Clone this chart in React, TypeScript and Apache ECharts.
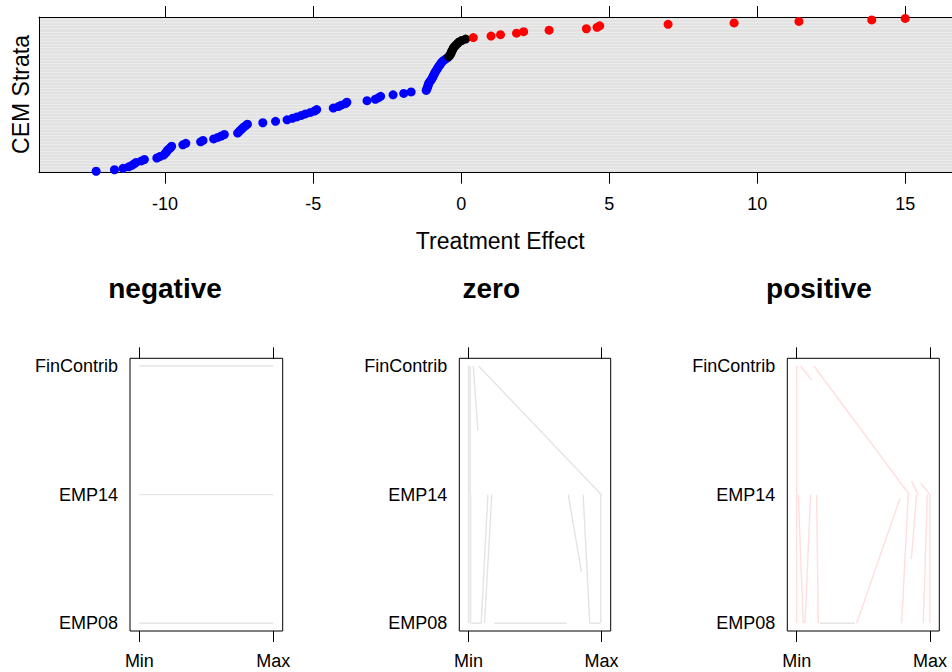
import React, { useEffect, useRef } from "react";
import * as echarts from "echarts";

// Treatment effects, sorted, grouped by sign class
const negativeEffects = [
  -12.33, -11.71, -11.42, -11.23, -11.12, -11.05, -10.98, -10.8, -10.7, -10.28,
  -10.18, -10.05, -10.0, -9.96, -9.93, -9.88, -9.82, -9.78, -9.4, -9.3,
  -8.8, -8.72, -8.36, -8.22, -8.1, -8.0, -7.55, -7.5, -7.45, -7.4,
  -7.35, -7.28, -7.22, -6.7, -6.27, -5.88, -5.7, -5.55, -5.4, -5.26,
  -5.09, -4.95, -4.88, -4.32, -4.15, -4.05, -3.91, -3.86, -3.18, -2.9,
  -2.8, -2.72, -2.3, -1.94, -1.69, -1.18, -1.16, -1.14, -1.12, -1.11,
  -1.09, -1.06, -1.02, -0.99, -0.96, -0.94, -0.91, -0.89, -0.86, -0.83,
  -0.8, -0.77, -0.73, -0.7, -0.66, -0.62, -0.55, -0.48,
];
const zeroEffects = [
  -0.42, -0.38, -0.35, -0.33, -0.31, -0.28, -0.26, -0.22, -0.17, -0.12, -0.07, 0.02, 0.15,
];
const positiveEffects = [
  0.41, 1.01, 1.33, 1.87, 2.11, 2.97, 4.23, 4.59, 4.68, 6.99, 9.22, 11.41, 13.87, 15.0,
];
const effectTicks = [-10, -5, 0, 5, 10, 15];

const panelTitles = ["negative", "zero", "positive"];
const variableLabels = ["EMP08", "EMP14", "FinContrib"];
const rangeLabels = ["Min", "Max"];

// Parallel profiles: [scaled value (0=Min, 1=Max), variable level (0=EMP08,1=EMP14,2=FinContrib)]
const negativeProfiles = [
  [[0, 2], [1, 2]],
  [[0, 1], [1, 1]],
  [[0, 0], [1, 0]],
];
const zeroProfiles = [
  [[0, 2], [0, 1]],
  [[0.012, 2], [0.012, 1]],
  [[0.035, 2], [0.07, 1.5]],
  [[0.075, 2], [1, 1]],
  [[0, 1], [0, 0]],
  [[0.015, 1], [0.015, 0]],
  [[0.02, 0], [0.095, 0]],
  [[0.095, 0], [0.145, 1]],
  [[0.175, 1], [0.12, 0]],
  [[0.195, 0], [0.74, 0]],
  [[0.75, 1], [0.85, 0.4]],
  [[0.8625, 1], [0.9125, 0]],
  [[0.9125, 0], [0.9875, 0]],
  [[0.995, 1], [0.995, 0]],
];
const positiveProfiles = [
  [[0, 2], [0, 1]],
  [[0.03, 2], [0.1125, 1.89]],
  [[0.13, 2], [0.845, 1]],
  [[0.8625, 1.107], [0.9125, 1]],
  [[0.93, 1.09], [1, 1]],
  [[0, 1], [0, 0]],
  [[0.0125, 1], [0.05, 0]],
  [[0.105, 1], [0.0625, 0]],
  [[0.15, 1], [0.1625, 0]],
  [[0.45, 0], [0.775, 0.97]],
  [[0.8375, 1], [0.7875, 0]],
  [[0.9, 1], [0.86, 0.5]],
  [[0.98, 1], [0.95, 0]],
  [[1, 1], [1, 0]],
];
const positiveGrayProfiles = [
  [[0.175, 0], [0.4375, 0]],
];

const FONT = "'Liberation Sans', Arial, Helvetica, sans-serif";

export default function App() {
  const ref = useRef<HTMLDivElement>(null);

  useEffect(() => {
    if (!ref.current) return;
    const chart = echarts.init(ref.current, null, { renderer: "svg" });

    const panelBoxes = [
      { left: 130, right: 952 - 282.7 },
      { left: 459.3, right: 952 - 610.7 },
      { left: 787.3, right: 952 - 939.3 },
    ];
    const grids: any[] = [
      { left: 39, top: 17, right: 0, bottom: 672 - 172.7, show: true, backgroundColor: "#ebebeb", borderWidth: 0 },
      ...panelBoxes.map((b) => ({
        left: b.left, right: b.right, top: 358.3, bottom: 672 - 631,
        show: true, backgroundColor: "#ffffff", borderColor: "#000", borderWidth: 1,
      })),
    ];

    const xAxes: any[] = [
      {
        gridIndex: 0, type: "value", position: "bottom", min: -14.26, max: 16.58,
        axisLine: { show: true, onZero: false, lineStyle: { color: "#000", width: 1 } },
        axisTick: { show: true, customValues: effectTicks, length: 11, lineStyle: { color: "#000" } },
        axisLabel: { customValues: effectTicks, margin: 22, fontSize: 18, color: "#000", fontFamily: FONT },
        splitLine: { show: false },
      },
      {
        gridIndex: 0, type: "value", position: "top", min: -14.26, max: 16.58,
        axisLine: { show: true, onZero: false, lineStyle: { color: "#000", width: 1 } },
        axisTick: { show: true, customValues: effectTicks, length: 11, lineStyle: { color: "#000" } },
        axisLabel: { show: false },
        splitLine: { show: false },
      },
    ];
    const yAxes: any[] = [
      {
        gridIndex: 0, type: "value", min: 0, max: 106, interval: 1,
        axisLine: { show: true, onZero: false, lineStyle: { color: "#000", width: 1 } },
        axisTick: { show: false }, axisLabel: { show: false },
        splitLine: { show: true, lineStyle: { color: "#dcdcdc", width: 0.6 } },
      },
    ];
    for (let k = 1; k <= 3; k++) {
      xAxes.push({
        gridIndex: k, type: "value", position: "bottom", min: -0.07, max: 1.07,
        axisLine: { show: false, onZero: false },
        axisTick: { show: true, customValues: [0, 1], length: 11, lineStyle: { color: "#000" } },
        axisLabel: {
          customValues: [0, 1], margin: 21, fontSize: 18, color: "#000", fontFamily: FONT,
          formatter: (v: number) => rangeLabels[Math.round(v)],
        },
        splitLine: { show: false },
      });
      xAxes.push({
        gridIndex: k, type: "value", position: "top", min: -0.07, max: 1.07,
        axisLine: { show: false, onZero: false },
        axisTick: { show: true, customValues: [0, 1], length: 11, lineStyle: { color: "#000" } },
        axisLabel: { show: false },
        splitLine: { show: false },
      });
      yAxes.push({
        gridIndex: k, type: "value", min: -0.06, max: 2.06,
        axisLine: { show: false, onZero: false },
        axisTick: { show: false },
        axisLabel: {
          customValues: [0, 1, 2], margin: 12, fontSize: 18, color: "#000", fontFamily: FONT,
          formatter: (v: number) => variableLabels[Math.round(v)],
        },
        splitLine: { show: false },
      });
    }

    const series: any[] = [];
    let rank = 0;
    const groups: [number[], string][] = [
      [negativeEffects, "#0000ff"],
      [zeroEffects, "#000000"],
      [positiveEffects, "#ff0000"],
    ];
    groups.forEach(([vals, color]) => {
      const data = vals.map((v) => { rank += 1; return [v, rank]; });
      series.push({
        type: "scatter", xAxisIndex: 0, yAxisIndex: 0, data, symbol: "circle",
        symbolSize: 9, itemStyle: { color, opacity: 1 }, silent: true,
      });
    });

    const addProfiles = (profiles: number[][][], k: number, color: string) => {
      profiles.forEach((p) => {
        series.push({
          type: "line", xAxisIndex: 2 * k, yAxisIndex: k, data: p, symbol: "none",
          showSymbol: false, silent: true, lineStyle: { color, width: 1.4 },
        });
      });
    };
    addProfiles(negativeProfiles, 1, "#e6e6e6");
    addProfiles(zeroProfiles, 2, "#e4e4e4");
    addProfiles(positiveProfiles, 3, "#ffdede");
    addProfiles(positiveGrayProfiles, 3, "#e4e4e4");

    const titleX = [165, 491.3, 819];
    const graphic: any[] = [
      {
        type: "text", x: 500.2, y: 240.7,
        style: { text: "Treatment Effect", fontSize: 23, fontFamily: FONT, fill: "#000", align: "center", verticalAlign: "middle" },
      },
      {
        type: "text", x: 20.7, y: 94.5, rotation: Math.PI / 2,
        style: { text: "CEM Strata", fontSize: 23, fontFamily: FONT, fill: "#000", align: "center", verticalAlign: "middle" },
      },
      ...panelTitles.map((t, i) => ({
        type: "text", x: titleX[i], y: 288,
        style: { text: t, fontSize: 28, fontWeight: "bold", fontFamily: FONT, fill: "#000", align: "center", verticalAlign: "middle" },
      })),
    ];

    chart.setOption({
      animation: false,
      backgroundColor: "#ffffff",
      grid: grids,
      xAxis: xAxes,
      yAxis: yAxes,
      series,
      graphic,
    });

    return () => chart.dispose();
  }, []);

  return (
    <div
      ref={ref}
      style={{ position: "absolute", left: 0, top: 0, width: 952, height: 672 }}
    />
  );
}
